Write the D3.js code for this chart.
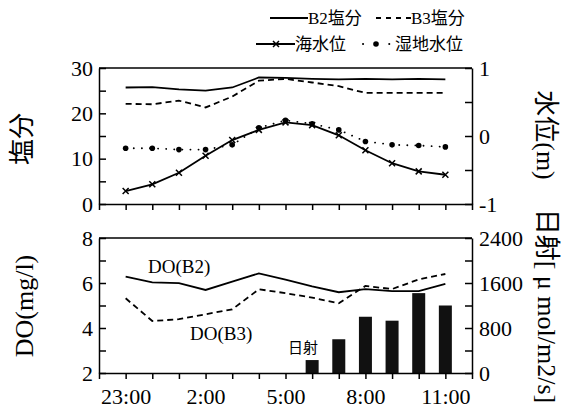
<!DOCTYPE html>
<html>
<head>
<meta charset="utf-8">
<script src="https://cdn.jsdelivr.net/npm/d3@7"></script>
<style>
  body { margin: 0; background: #fff; }
  svg text { font-family: "Liberation Serif", "DejaVu Serif", "Noto Sans CJK JP", serif; }
  svg text.sans { font-family: "Noto Sans CJK JP", sans-serif; }
</style>
</head>
<body>
<script>
// hourly readings, 23:00 -> 11:00
var times = ["23:00","0:00","1:00","2:00","3:00","4:00","5:00","6:00","7:00","8:00","9:00","10:00","11:00"];
var tickLabels = ["23:00","2:00","5:00","8:00","11:00"];

var b2Salt = [25.7, 25.8, 25.3, 25.0, 25.7, 27.9, 27.8, 27.6, 27.5, 27.6, 27.5, 27.6, 27.5];
var b3Salt = [22.1, 22.0, 22.8, 21.3, 23.7, 27.2, 27.6, 26.8, 26.0, 24.5, 24.5, 24.5, 24.5];
var seaLevel = [-0.81, -0.71, -0.54, -0.29, -0.06, 0.09, 0.20, 0.16, 0.01, -0.21, -0.40, -0.52, -0.57];
var wetLevel = [-0.18, -0.18, -0.20, -0.20, -0.13, 0.12, 0.23, 0.18, 0.09, -0.08, -0.13, -0.14, -0.16];

var doB2 = [6.28, 6.03, 5.99, 5.69, 6.06, 6.43, 6.15, 5.85, 5.59, 5.73, 5.64, 5.64, 5.96];
var doB3 = [5.32, 4.31, 4.39, 4.61, 4.83, 5.72, 5.55, 5.35, 5.10, 5.87, 5.73, 6.16, 6.40];

var radTimes = ["6:00","7:00","8:00","9:00","10:00","11:00"];
var radiation = [230, 600, 1000, 930, 1420, 1200];

var width = 561, height = 408;
var left = 99, right = 472;
var top1 = 68, bot1 = 204, top2 = 238, bot2 = 373;

var svg = d3.select("body").append("svg")
  .attr("width", width)
  .attr("height", height);

var x = d3.scalePoint().domain(times).range([left, right]).padding(1);

var ySalt = d3.scaleLinear().domain([0, 30]).range([bot1, top1]);
var yLev = d3.scaleLinear().domain([-1, 1]).range([bot1, top1]);
var yDO = d3.scaleLinear().domain([2, 8]).range([bot2, top2]);
var yRad = d3.scaleLinear().domain([0, 2400]).range([bot2, top2]);

function series(vals) {
  return vals.map(function(v, i) { return { t: times[i], v: v }; });
}

// ---------- bars (radiation) first so lines sit above
svg.selectAll(".bar")
  .data(radiation)
  .enter().append("rect")
  .attr("x", function(d, i) { return x(radTimes[i]) - 6.5; })
  .attr("width", 13)
  .attr("y", function(d) { return yRad(d); })
  .attr("height", function(d) { return bot2 - yRad(d); })
  .attr("fill", "#111");

// ---------- axes
function styleAxis(g, fs) {
  g.attr("font-family", null);
  g.selectAll("path,line").attr("stroke", "#000").attr("stroke-width", 1.5);
  g.selectAll("text").attr("font-size", fs).attr("fill", "#000");
}

function xAxis(yPos, showLabels) {
  var ax = d3.axisBottom(x).tickSize(6).tickSizeOuter(6).tickPadding(9)
    .tickFormat(function(d) { return showLabels && tickLabels.indexOf(d) >= 0 ? d : ""; });
  var g = svg.append("g").attr("transform", "translate(0," + yPos + ")").call(ax);
  styleAxis(g, 22);
}
xAxis(bot1, false);
xAxis(bot2, true);

function leftAxis(scale, vals, labelVals) {
  var ax = d3.axisLeft(scale).tickValues(vals).tickSize(-7).tickSizeOuter(0).tickPadding(6)
    .tickFormat(function(d) { return labelVals.indexOf(d) >= 0 ? d : ""; });
  var g = svg.append("g").attr("transform", "translate(" + left + ",0)").call(ax);
  styleAxis(g, 22);
}
function rightAxis(scale, vals, labelVals) {
  var ax = d3.axisRight(scale).tickValues(vals).tickSize(-7).tickSizeOuter(0).tickPadding(7)
    .tickFormat(function(d) { return labelVals.indexOf(d) >= 0 ? d : ""; });
  var g = svg.append("g").attr("transform", "translate(" + right + ",0)").call(ax);
  styleAxis(g, 22);
}

leftAxis(ySalt, [0, 5, 10, 15, 20, 25, 30], [0, 10, 20, 30]);
rightAxis(yLev, [-1, -0.5, 0, 0.5, 1], [-1, 0, 1]);
leftAxis(yDO, [2, 3, 4, 5, 6, 7, 8], [2, 4, 6, 8]);
rightAxis(yRad, [0, 400, 800, 1200, 1600, 2000, 2400], [0, 800, 1600, 2400]);

// top borders
[top1, top2].forEach(function(yy) {
  svg.append("line").attr("x1", left).attr("x2", right).attr("y1", yy).attr("y2", yy)
    .attr("stroke", "#000").attr("stroke-width", 1.5);
});

// ---------- lines
var lineSalt = d3.line().x(function(d) { return x(d.t); }).y(function(d) { return ySalt(d.v); });
var lineLev = d3.line().x(function(d) { return x(d.t); }).y(function(d) { return yLev(d.v); });
var lineDO = d3.line().x(function(d) { return x(d.t); }).y(function(d) { return yDO(d.v); });

function drawPath(gen, vals, dash, w) {
  svg.append("path").datum(series(vals))
    .attr("d", gen)
    .attr("fill", "none")
    .attr("stroke", "#000")
    .attr("stroke-width", w || 1.8)
    .attr("stroke-linecap", dash === "dot" ? "round" : "butt")
    .attr("stroke-dasharray", dash === "dot" ? "0.1,8" : dash);
}

drawPath(lineSalt, b2Salt, null);
drawPath(lineSalt, b3Salt, "6,4");
drawPath(lineLev, wetLevel, "dot", 1.8);
drawPath(lineLev, seaLevel, null);
drawPath(lineDO, doB2, null);
drawPath(lineDO, doB3, "6,4");

// wetland markers
svg.selectAll(".wet")
  .data(series(wetLevel))
  .enter().append("circle")
  .attr("cx", function(d) { return x(d.t); })
  .attr("cy", function(d) { return yLev(d.v); })
  .attr("r", 2.8)
  .attr("fill", "#000");

// sea level "x" markers
function cross(sel) {
  sel.attr("d", "M-3,-3L3,3M-3,3L3,-3").attr("stroke", "#000").attr("stroke-width", 1.5).attr("fill", "none");
}
svg.selectAll(".sea")
  .data(series(seaLevel))
  .enter().append("path")
  .attr("transform", function(d) { return "translate(" + x(d.t) + "," + yLev(d.v) + ")"; })
  .call(cross);

// ---------- annotations
svg.append("text").attr("x", 148).attr("y", 273).attr("font-size", 19).text("DO(B2)");
svg.append("text").attr("x", 190).attr("y", 340).attr("font-size", 19).text("DO(B3)");
svg.append("text").attr("class", "sans").attr("x", 288).attr("y", 353).attr("font-size", 15).text("日射");

// ---------- axis titles
function vTitle(txt, cx, cy, rot) {
  svg.append("text")
    .attr("transform", "translate(" + cx + "," + cy + ") rotate(" + rot + ")")
    .attr("text-anchor", "middle")
    .attr("dominant-baseline", "central")
    .attr("font-size", 26)
    .text(txt);
}
vTitle("塩分", 22, 139, -90);
vTitle("DO(mg/l)", 24, 306, -90);
vTitle("水位(m)", 545, 135, 90);
vTitle("日射[ μ mol/m2/s]", 546, 306, 90);

// ---------- legend
var lg = svg.append("g");
function legLine(x1, x2, yy, dash) {
  lg.append("line").attr("x1", x1).attr("x2", x2).attr("y1", yy).attr("y2", yy)
    .attr("stroke", "#000").attr("stroke-width", 1.8).attr("stroke-dasharray", dash);
}
function legText(xx, yy, txt) {
  lg.append("text").attr("x", xx).attr("y", yy).attr("dy", "0.36em").attr("font-size", 17).text(txt);
}
legLine(270, 308, 18, null);
legText(308, 18, "B2塩分");
legLine(376, 411, 18, "5,5");
legText(411, 18, "B3塩分");

legLine(256, 295, 44, null);
lg.append("path").attr("transform", "translate(276,44)").call(cross);
legText(295, 44, "海水位");

lg.append("line").attr("x1", 363).attr("x2", 390).attr("y1", 44).attr("y2", 44)
  .attr("stroke", "#000").attr("stroke-width", 2).attr("stroke-linecap", "round")
  .attr("stroke-dasharray", "0.1,13");
lg.append("circle").attr("cx", 376).attr("cy", 44).attr("r", 2.8).attr("fill", "#000");
legText(395, 44, "湿地水位");
</script>
</body>
</html>
